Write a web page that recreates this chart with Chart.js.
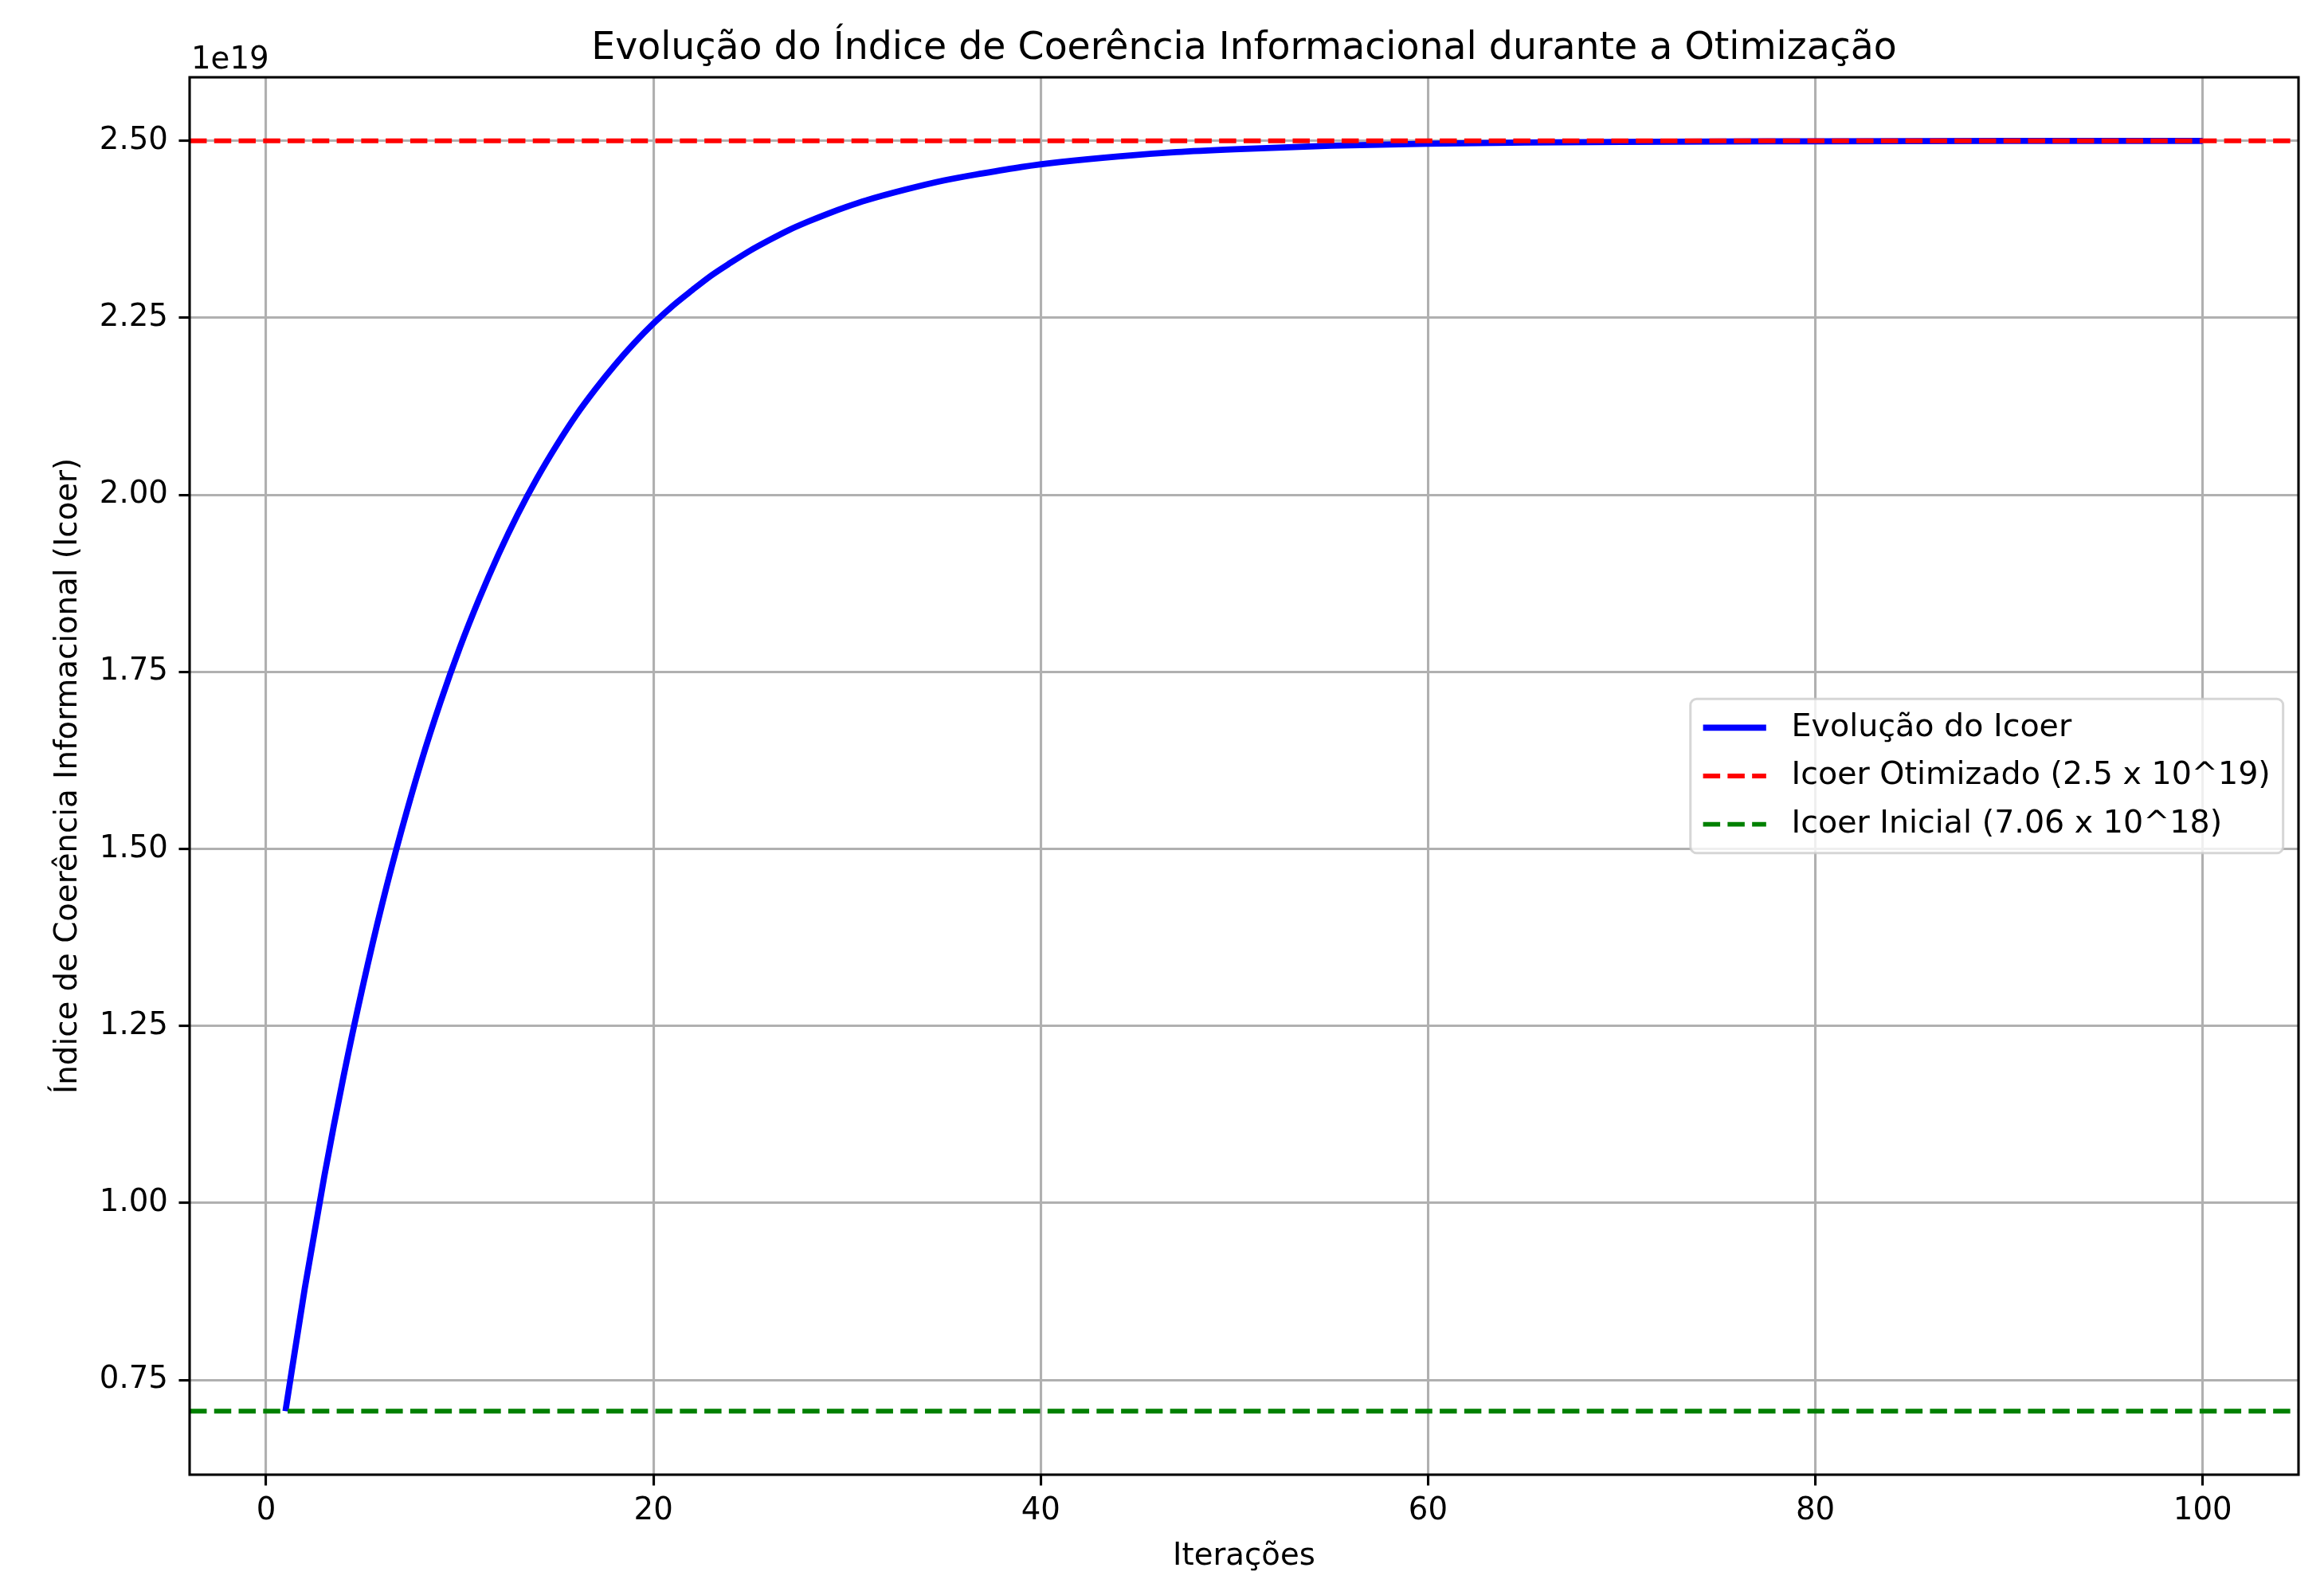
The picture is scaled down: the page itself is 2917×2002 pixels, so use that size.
<!DOCTYPE html>
<html>
<head>
<meta charset="utf-8">
<script src="https://cdn.jsdelivr.net/npm/chart.js@4.4.1/dist/chart.umd.min.js"></script>
<style>
html,body{margin:0;padding:0;background:#ffffff;overflow:hidden}
canvas{display:block}
</style>
</head>
<body>
<canvas id="chart" width="2917" height="2002" style="width:2917px;height:2002px"></canvas>
<script>
// ---- data (values in units of 1e19) ----
const ITERATIONS = [1,2,3,4,5,6,7,8,9,10,11,12,13,14,15,16,17,18,19,20,21,22,23,24,25,26,27,28,29,30,31,33,35,37,39,41,44,47,50,55,60,65,70,80,90,100];
const ICOER_VALUES = [0.706,0.880,1.037,1.179,1.307,1.423,1.527,1.622,1.707,1.784,1.853,1.916,1.973,2.024,2.070,2.112,2.149,2.183,2.214,2.242,2.267,2.289,2.310,2.328,2.345,2.360,2.374,2.386,2.397,2.407,2.416,2.431,2.444,2.454,2.463,2.470,2.478,2.484,2.488,2.493,2.496,2.4975,2.4985,2.4994,2.4998,2.4999];
const ICOER_OTIMIZADO = 2.5;
const ICOER_INICIAL = 0.706;
const X_TICKS = [0,20,40,60,80,100];
const Y_TICKS = [0.75,1.00,1.25,1.50,1.75,2.00,2.25,2.50];
const OFFSET_LABEL = '1e19';
const SERIES_LABELS = ['Evolução do Icoer','Icoer Otimizado (2.5 x 10^19)','Icoer Inicial (7.06 x 10^18)'];
const TITLE = 'Evolução do Índice de Coerência Informacional durante a Otimização';
const X_LABEL = 'Iterações';
const Y_LABEL = 'Índice de Coerência Informacional (Icoer)';

// axis limits (matplotlib-style 5% margins)
const X_MIN = -3.95, X_MAX = 104.95;
const Y_MIN = 0.6163, Y_MAX = 2.5897;

const PT = 3.87;               // px per point
const FONT = '"DejaVu Sans", sans-serif';
const FS = 10 * PT;            // 10pt ticks
const FS_LEG = 39.6;           // legend text
const FS_TITLE = 47.4;         // title

const mplDecor = {
  id: 'mplDecor',
  afterDraw(chart) {
    const ctx = chart.ctx, a = chart.chartArea;
    ctx.save();
    // spines
    ctx.strokeStyle = '#000';
    ctx.lineWidth = 0.8 * PT;
    ctx.strokeRect(a.left, a.top, a.right - a.left, a.bottom - a.top);

    // legend
    ctx.font = FS_LEG + 'px ' + FONT;
    const pad = 0.4 * FS_LEG, handleLen = 2 * FS_LEG, textPad = 0.8 * FS_LEG, spacing = 0.5 * FS_LEG, rowH = 1.03 * FS_LEG;
    let maxW = 0;
    SERIES_LABELS.forEach(t => { maxW = Math.max(maxW, ctx.measureText(t).width); });
    const boxW = pad * 2 + handleLen + textPad + maxW;
    const boxH = pad * 2 + 3 * rowH + 2 * spacing;
    const bx = a.right - 0.5 * FS - boxW;
    const by = (a.top + a.bottom) / 2 - boxH / 2;
    ctx.beginPath();
    ctx.roundRect(bx, by, boxW, boxH, 0.2 * FS_LEG);
    ctx.fillStyle = 'rgba(255,255,255,0.8)';
    ctx.fill();
    ctx.strokeStyle = 'rgba(204,204,204,0.8)';
    ctx.lineWidth = 3;
    ctx.stroke();
    [0, 1, 2].forEach((i, k) => {
      const ds = chart.data.datasets[i];
      const cy = by + pad + rowH / 2 + k * (rowH + spacing);
      ctx.save();
      ctx.beginPath();
      ctx.strokeStyle = ds.borderColor;
      ctx.lineWidth = ds.borderWidth;
      ctx.setLineDash(ds.borderDash || []);
      ctx.moveTo(bx + pad, cy);
      ctx.lineTo(bx + pad + handleLen, cy);
      ctx.stroke();
      ctx.restore();
      ctx.fillStyle = '#000';
      ctx.textAlign = 'left';
      ctx.textBaseline = 'middle';
      ctx.fillText(SERIES_LABELS[i], bx + pad + handleLen + textPad, cy);
    });

    // title
    ctx.fillStyle = '#000';
    ctx.font = FS_TITLE + 'px ' + FONT;
    ctx.textAlign = 'center';
    ctx.textBaseline = 'alphabetic';
    ctx.fillText(TITLE, (a.left + a.right) / 2, a.top - 23);

    // offset text
    ctx.font = FS + 'px ' + FONT;
    ctx.textAlign = 'left';
    ctx.fillText(OFFSET_LABEL, a.left + 2, a.top - 11);

    // x label
    ctx.textAlign = 'center';
    ctx.fillText(X_LABEL, (a.left + a.right) / 2, 1964);

    // y label
    ctx.save();
    ctx.translate(96, (a.top + a.bottom) / 2);
    ctx.rotate(-Math.PI / 2);
    ctx.textAlign = 'center';
    ctx.textBaseline = 'alphabetic';
    ctx.fillText(Y_LABEL, 0, 0);
    ctx.restore();

    ctx.restore();
  }
};

const tickFont = { family: FONT, size: FS };

new Chart(document.getElementById('chart'), {
  type: 'line',
  data: {
    datasets: [
      {
        label: SERIES_LABELS[0],
        data: ITERATIONS.map((x, i) => ({ x: x, y: ICOER_VALUES[i] })),
        borderColor: '#0000ff',
        borderWidth: 2 * PT,
        pointRadius: 0,
        cubicInterpolationMode: 'monotone',
        order: 3
      },
      {
        label: SERIES_LABELS[1],
        data: [{ x: X_MIN, y: ICOER_OTIMIZADO }, { x: X_MAX, y: ICOER_OTIMIZADO }],
        borderColor: '#ff0000',
        borderWidth: 1.5 * PT,
        borderDash: [3.7 * 1.5 * PT, 1.6 * 1.5 * PT],
        pointRadius: 0,
        order: 2
      },
      {
        label: SERIES_LABELS[2],
        data: [{ x: X_MIN, y: ICOER_INICIAL }, { x: X_MAX, y: ICOER_INICIAL }],
        borderColor: '#008000',
        borderWidth: 1.5 * PT,
        borderDash: [3.7 * 1.5 * PT, 1.6 * 1.5 * PT],
        pointRadius: 0,
        order: 1
      }
    ]
  },
  options: {
    responsive: false,
    animation: false,
    devicePixelRatio: 1,
    layout: { padding: { left: 0, top: 97, right: 32, bottom: 0 } },
    plugins: { legend: { display: false }, tooltip: { enabled: false }, title: { display: false } },
    scales: {
      x: {
        type: 'linear',
        min: X_MIN,
        max: X_MAX,
        afterBuildTicks: s => { s.ticks = X_TICKS.map(v => ({ value: v })); },
        afterFit: s => { s.height = 151; },
        border: { display: false },
        grid: { color: '#b0b0b0', lineWidth: 0.8 * PT, drawTicks: true, tickLength: 3.5 * PT, tickColor: '#000', tickWidth: 0.8 * PT },
        ticks: { color: '#000', font: tickFont, padding: 3.5 * PT - 4, maxRotation: 0, autoSkip: false, callback: v => String(v) }
      },
      y: {
        type: 'linear',
        min: Y_MIN,
        max: Y_MAX,
        afterBuildTicks: s => { s.ticks = Y_TICKS.map(v => ({ value: v })); },
        afterFit: s => { s.width = 238; },
        border: { display: false },
        grid: { color: '#b0b0b0', lineWidth: 0.8 * PT, drawTicks: true, tickLength: 3.5 * PT, tickColor: '#000', tickWidth: 0.8 * PT },
        ticks: { color: '#000', font: tickFont, padding: 3.5 * PT, autoSkip: false, callback: v => Number(v).toFixed(2) }
      }
    }
  },
  plugins: [mplDecor]
});
</script>
</body>
</html>
